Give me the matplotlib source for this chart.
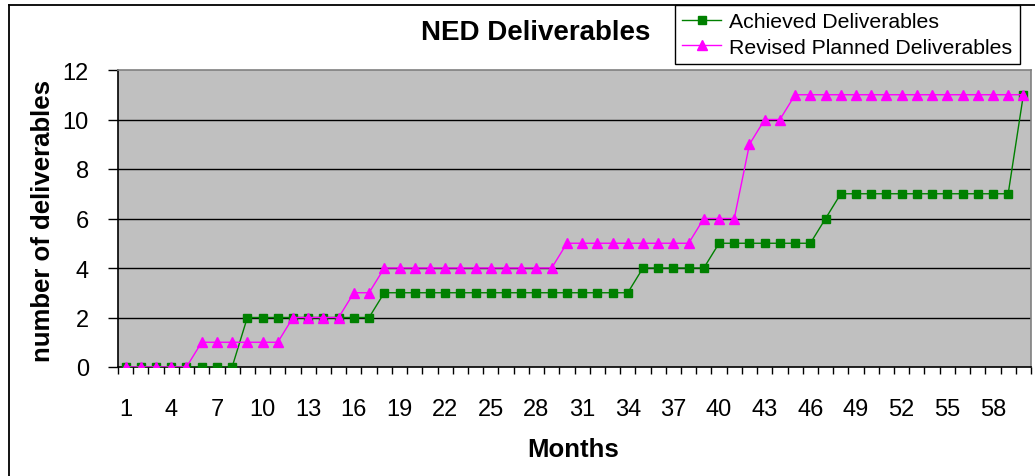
import matplotlib
matplotlib.use("Agg")
import matplotlib.pyplot as plt
from matplotlib.lines import Line2D

plt.rcParams['font.family'] = ['Liberation Sans', 'DejaVu Sans']

months = list(range(1, 61))
achieved = ([0] * 8 + [2] * 9 + [3] * 17 + [4] * 5 + [5] * 7 + [6] + [7] * 12 + [11])
planned = ([0] * 5 + [1] * 6 + [2] * 4 + [3] * 2 + [4] * 12 + [5] * 9 + [6] * 3
           + [9] + [10] * 2 + [11] * 16)
tick_months = list(range(1, 61, 3))
y_ticks = list(range(0, 13, 2))

W, H = 1035, 477
fig = plt.figure(figsize=(W / 100, H / 100), dpi=100)
fig.patch.set_facecolor('white')

left, right, top, bottom = 118, 1031, 71, 368
ax = fig.add_axes([left / W, 1 - bottom / H, (right - left) / W, (bottom - top) / H])
ax.set_facecolor('#C0C0C0')

for y in y_ticks[1:-1]:
    ax.axhline(y, color='black', lw=1.0, zorder=1)

ax.plot(months, achieved, color='#008000', lw=1.0, marker='s', ms=6,
        mec='#008000', mfc='#008000', label='Achieved Deliverables', zorder=3)
ax.plot(months, planned, color='#FF00FF', lw=1.0, marker='^', ms=7.5,
        mec='#FF00FF', mfc='#FF00FF', label='Revised Planned Deliverables', zorder=4)

ax.set_xlim(0.5, 60.5)
ax.set_ylim(0, 12)

ax.set_yticks(y_ticks)
ax.tick_params(axis='y', direction='out', length=7, width=1, color='black',
               labelsize=17, pad=14)

ax.set_xticks([m + 0.5 for m in range(0, 61)])
ax.set_xticklabels([])
ax.tick_params(axis='x', which='major', direction='out', length=5, width=1, color='black')
ax.set_xticks(tick_months, minor=True)
ax.set_xticklabels([str(m) for m in tick_months], minor=True)
ax.tick_params(axis='x', which='minor', length=0, labelsize=17, pad=22)

for side in ('left', 'bottom'):
    ax.spines[side].set_color('black')
    ax.spines[side].set_linewidth(1.2)
for side in ('top', 'right'):
    ax.spines[side].set_color('#808080')
    ax.spines[side].set_linewidth(1.2)

# chart frame (left and top edges)
bx, by = 9 / W, 1 - 6 / H
fig.add_artist(Line2D([bx, bx], [0, by], transform=fig.transFigure, color='black', lw=1.3))
fig.add_artist(Line2D([bx, 1], [by, by], transform=fig.transFigure, color='black', lw=1.3))

fig.text(535.5 / W, 1 - 33 / H, 'NED Deliverables', ha='center', va='center',
         fontsize=20, fontweight='bold')
fig.text(43 / W, 1 - 221 / H, 'number of deliverables', ha='center', va='center',
         rotation=90, fontsize=18.5, fontweight='bold')
fig.text(573.5 / W, 1 - 450 / H, 'Months', ha='center', va='center',
         fontsize=18.5, fontweight='bold')

leg = fig.legend(loc='upper left', bbox_to_anchor=(675 / W, 1 - 6 / H),
                 bbox_transform=fig.transFigure, fontsize=15.3, frameon=True,
                 fancybox=False, edgecolor='black', framealpha=1,
                 borderpad=0.35, labelspacing=0.3, handlelength=1.8,
                 handletextpad=0.4, borderaxespad=0)
leg.get_frame().set_linewidth(1.0)

fig.savefig('out.png', dpi=100)
